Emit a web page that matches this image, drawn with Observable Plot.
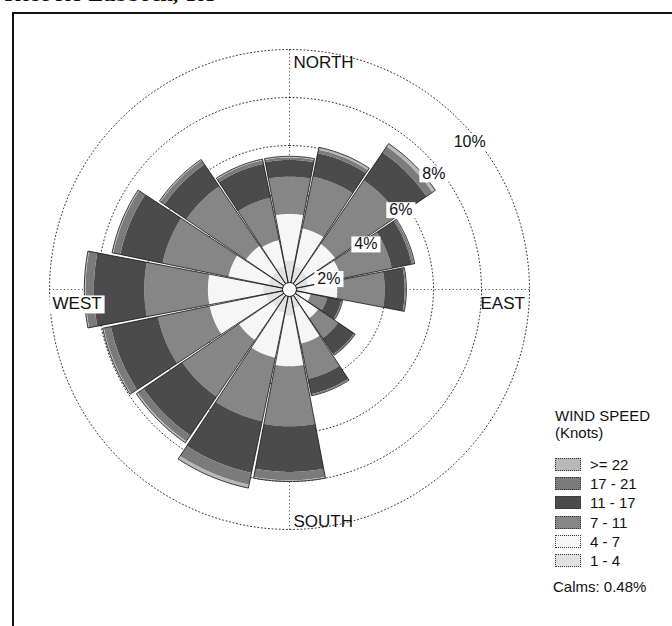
<!DOCTYPE html>
<html>
<head>
<meta charset="utf-8">
<script src="https://cdn.jsdelivr.net/npm/d3@7"></script>
<script src="https://cdn.jsdelivr.net/npm/@observablehq/plot@0.6"></script>
<style>
  html, body { margin: 0; padding: 0; background: #fff; }
  body { width: 672px; height: 626px; overflow: hidden; position: relative;
         font-family: "Liberation Sans", Arial, sans-serif; color: #111; }
  #title { position: absolute; right: 458px; top: -17px; white-space: nowrap;
           font: bold 22px/22px "Liberation Serif", "Times New Roman", serif; }
  #frame { position: absolute; left: 12px; top: 12px; width: 720px; height: 700px;
           border-left: 2px solid #111; border-top: 2px solid #111; }
  #chart { position: absolute; left: 14px; top: 14px; }
  #legend { position: absolute; left: 0; top: 0; font-size: 15px; line-height: 15px; }
  #legend div { position: absolute; white-space: nowrap; }
  #legend .sw { width: 24px; height: 11px; border: 1px dotted #333; }
</style>
</head>
<body>
<div id="title">Wind Rose for Lubbock, TX</div>
<div id="frame"></div>
<div id="chart"></div>
<div id="legend"></div>
<script>
// ---- data (percent of time) ----
const directions = ["N","NNE","NE","ENE","E","ESE","SE","SSE","S","SSW","SW","WSW","W","WNW","NW","NNW"];
const speedClasses = ["1 - 4", "4 - 7", "7 - 11", "11 - 17", "17 - 21", ">= 22"];
const pct_1_4   = [1.2, 1.0, 0.9, 0.8, 0.7, 0.5, 0.6, 0.8, 1.1, 1.0, 0.9, 1.0, 1.1, 0.9, 0.9, 1.0];
const pct_4_7   = [1.95, 1.6, 1.4, 1.4, 1.3, 0.4, 0.85, 1.5, 2.1, 1.9, 1.65, 2.4, 2.3, 1.7, 1.3, 1.1];
const pct_7_11  = [1.55, 2.2, 3.2, 2.15, 1.97, 0.7, 1.0, 1.5, 2.5, 2.7, 2.85, 2.2, 2.65, 2.8, 3.0, 1.8];
const pct_11_17 = [0.7, 1.0, 1.4, 0.85, 0.83, 0.6, 0.8, 0.65, 1.9, 2.2, 1.95, 2.0, 2.1, 1.8, 1.1, 1.45];
const pct_17_21 = [0.1, 0.15, 0.3, 0.1, 0.05, 0.05, 0.05, 0.05, 0.35, 0.5, 0.3, 0.3, 0.35, 0.3, 0.2, 0.15];
const pct_22    = [0.05, 0.1, 0.15, 0.03, 0.02, 0.01, 0.01, 0.02, 0.05, 0.15, 0.07, 0.05, 0.05, 0.05, 0.05, 0.05];
const calms = 0.48;
const rings = [2, 4, 6, 8, 10];
const ringLabels = ["2%", "4%", "6%", "8%", "10%"];
const compassLabels = ["NORTH", "EAST", "SOUTH", "WEST"];

// ---- styling ----
const classColors = ["#e2e2e2", "#f6f6f6", "#868686", "#4b4b4b", "#7b7b7b", "#b8b8b8"];
const ringLabelBearing = [75, 59.4, 54.5, 51.4, 50.7];
const series = [pct_1_4, pct_4_7, pct_7_11, pct_11_17, pct_17_21, pct_22];
const sector = 360 / directions.length;
const half = sector / 2 - 0.45;
const rad = d => d * Math.PI / 180;
const pt = (r, b) => ({x: r * Math.sin(rad(b)), y: r * Math.cos(rad(b))});
function arc(r, b0, b1, n = 24) {
  const out = [];
  for (let j = 0; j <= n; j++) out.push(pt(r, b0 + (b1 - b0) * j / n));
  return out;
}

const bands = [], outlines = [];
directions.forEach((dir, i) => {
  const b = i * sector;
  let cum = 0;
  series.forEach((s, k) => {
    const r0 = cum, r1 = cum + s[i];
    cum = r1;
    const pts = [...arc(r1, b - half, b + half), ...arc(r0, b + half, b - half)];
    pts.forEach(p => bands.push({...p, id: dir + k, cls: speedClasses[k]}));
  });
  [pt(0, 0), ...arc(cum, b - half, b + half), pt(0, 0)].forEach(p => outlines.push({...p, dir}));
});

const gridPts = rings.flatMap(r => d3.range(0, 361, 2).map(a => ({...pt(r, a), ring: r})));
const rMax = d3.max(rings);
const crossLines = [{x1: 0, y1: -rMax, x2: 0, y2: rMax}, {x1: -rMax, y1: 0, x2: rMax, y2: 0}];
const ringText = rings.map((r, i) => ({...pt(r - 0.3, ringLabelBearing[i]), label: ringLabels[i]}));

const W = 658, H = 612, cx = 275, cy = 275, k = 24;
const chart = Plot.plot({
  width: W, height: H, margin: 0,
  x: {domain: [-cx / k, (W - cx) / k], axis: null},
  y: {domain: [-(H - cy) / k, cy / k], axis: null},
  color: {domain: speedClasses, range: classColors},
  style: {fontFamily: "'Liberation Sans', Arial, sans-serif", background: "white", color: "#111"},
  marks: [
    Plot.line(gridPts, {x: "x", y: "y", z: "ring", stroke: "#333", strokeWidth: 1, strokeDasharray: "1,2.6"}),
    Plot.link(crossLines, {x1: "x1", y1: "y1", x2: "x2", y2: "y2", stroke: "#333", strokeWidth: 1, strokeDasharray: "1,2.6"}),
    Plot.line(bands, {x: "x", y: "y", z: "id", fill: "cls", stroke: "none", curve: "linear"}),
    Plot.line(outlines, {x: "x", y: "y", z: "dir", stroke: "#111", strokeWidth: 0.8, fill: "none"}),
    Plot.dot([{x: 0, y: 0}], {x: "x", y: "y", r: 7, fill: "white", stroke: "#111", strokeWidth: 1}),
    Plot.text(ringText, {x: "x", y: "y", text: "label", fontSize: 16, textAnchor: "middle", lineAnchor: "middle", className: "boxed"}),
    Plot.text([{...pt(rMax, 0), t: compassLabels[0]}], {x: "x", y: "y", text: "t", fontSize: 17, textAnchor: "start", lineAnchor: "middle", dx: 4, dy: 13}),
    Plot.text([{...pt(rings[3], 90), t: compassLabels[1]}], {x: "x", y: "y", text: "t", fontSize: 17, textAnchor: "start", lineAnchor: "middle", dx: -1, dy: 14.5}),
    Plot.text([{...pt(rMax, 180), t: compassLabels[2]}], {x: "x", y: "y", text: "t", fontSize: 17, textAnchor: "start", lineAnchor: "middle", dx: 4, dy: -7.5}),
    Plot.text([{...pt(rMax, 270), t: compassLabels[3]}], {x: "x", y: "y", text: "t", fontSize: 17, textAnchor: "start", lineAnchor: "middle", dx: 3, dy: 14.5, className: "boxed"})
  ]
});
document.getElementById("chart").appendChild(chart);

// white boxes behind boxed labels
chart.querySelectorAll("g.boxed text").forEach(t => {
  const bb = t.getBBox();
  const rect = document.createElementNS("http://www.w3.org/2000/svg", "rect");
  rect.setAttribute("x", bb.x - 3);
  rect.setAttribute("y", bb.y + 1);
  rect.setAttribute("width", bb.width + 6);
  rect.setAttribute("height", bb.height - 1);
  rect.setAttribute("fill", "white");
  if (t.getAttribute("transform")) rect.setAttribute("transform", t.getAttribute("transform"));
  t.parentNode.insertBefore(rect, t);
});

// legend
const legend = document.getElementById("legend");
function addDiv(html, left, top, cls, bg) {
  const d = document.createElement("div");
  d.textContent = html;
  d.style.left = left + "px";
  d.style.top = top + "px";
  if (cls) d.className = cls;
  if (bg) d.style.background = bg;
  legend.appendChild(d);
}
addDiv("WIND SPEED", 555, 408);
addDiv("(Knots)", 555, 425);
const order = speedClasses.map((c, i) => i).reverse();
order.forEach((ci, row) => {
  const top = 458 + row * 19.2;
  addDiv("", 555, top, "sw", classColors[ci]);
  addDiv(speedClasses[ci], 590, top - 1);
});
addDiv("Calms: " + calms.toFixed(2) + "%", 553, 579);
</script>
</body>
</html>
